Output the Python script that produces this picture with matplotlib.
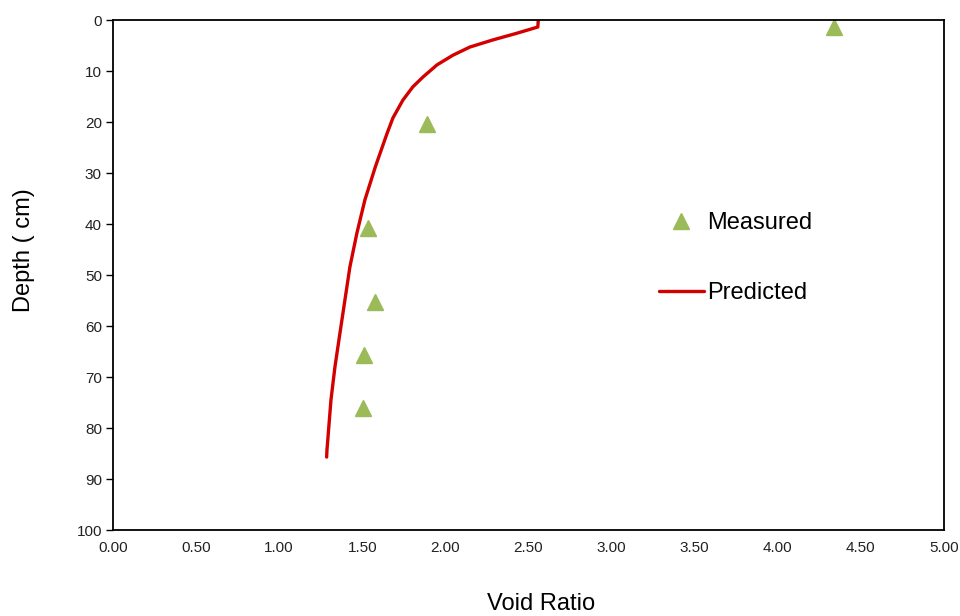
import matplotlib.pyplot as plt

plt.rcParams['font.family'] = ['Liberation Sans', 'DejaVu Sans']

# measured void ratio vs depth
measured_ratio = [4.34, 1.89, 1.535, 1.575, 1.51, 1.505]
measured_depth = [1.3, 20.3, 40.8, 55.2, 65.6, 76.0]

# predicted profile
predicted_ratio = [2.56, 2.557, 2.43, 2.287, 2.148, 2.046, 1.95, 1.865, 1.805,
                   1.745, 1.685, 1.65, 1.58, 1.516, 1.468, 1.426, 1.396,
                   1.366, 1.336, 1.312, 1.288, 1.286]
predicted_depth = [0.0, 1.37, 2.6, 3.9, 5.3, 6.9, 8.8, 11.2, 13.1,
                   15.7, 19.2, 22.2, 28.7, 35.3, 41.8, 48.4, 54.9,
                   61.4, 68.0, 74.5, 84.3, 85.7]

x_ticks = [0, 0.5, 1, 1.5, 2, 2.5, 3, 3.5, 4, 4.5, 5]
y_ticks = list(range(0, 101, 10))

fig = plt.figure(figsize=(9.6, 6.16), dpi=100)
ax = fig.add_axes([0.1177, 0.1396, 0.8653, 0.8279])

ax.plot(measured_ratio, measured_depth, linestyle='none', marker='^',
        markersize=11, color='#9BBB59', label='Measured', clip_on=False)
ax.plot(predicted_ratio, predicted_depth, color='#D40000', linewidth=2.4,
        label='Predicted', solid_joinstyle='round', solid_capstyle='round')

ax.set_xlim(0, 5)
ax.set_ylim(100, 0)
ax.set_xticks(x_ticks)
ax.set_xticklabels(['%.2f' % v for v in x_ticks])
ax.set_yticks(y_ticks)
ax.tick_params(axis='x', length=0, pad=8, labelsize=11, labelcolor='#222222')
ax.tick_params(axis='y', length=5, width=1, pad=3, labelsize=11,
               labelcolor='#222222', color='black')
for s in ax.spines.values():
    s.set_linewidth(1.3)
    s.set_color('black')

ax.set_xlabel('Void Ratio', fontsize=17, va='center')
ax.xaxis.set_label_coords((541 - 113) / 831, -(604 - 530) / 510)
ax.set_ylabel('Depth ( cm)', fontsize=17, va='center')
ax.yaxis.set_label_coords(-(113 - 24) / 831, (530 - 250) / 510)

ax.legend(loc='upper left', bbox_to_anchor=(0.643, 0.646), frameon=False,
          fontsize=17, handlelength=1.9, handletextpad=0.15, labelspacing=2.02,
          borderpad=0)

plt.savefig('out.png', dpi=100)
